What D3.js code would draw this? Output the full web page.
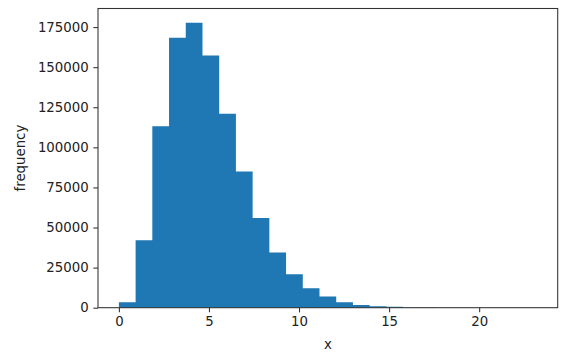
<!DOCTYPE html>
<html>
<head>
<meta charset="utf-8">
<script src="https://cdn.jsdelivr.net/npm/d3@7"></script>
<style>
  body { margin: 0; background: #fff; }
  text { font-family: "DejaVu Sans", sans-serif; }
</style>
</head>
<body>
<div id="chart"></div>
<script>
// histogram data
const binEdges = [0, 0.928, 1.856, 2.784, 3.712, 4.64, 5.568, 6.496, 7.424, 8.352, 9.28,
    10.208, 11.136, 12.064, 12.992, 13.92, 14.848, 15.776, 16.704, 17.632, 18.56,
    19.488, 20.416, 21.344, 22.272, 23.2];
const counts = [3400, 42100, 113100, 168400, 177700, 157300, 121000, 85000, 55900, 34400,
    20900, 12100, 7000, 3400, 1700, 900, 600, 150, 60, 25, 10, 4, 2, 1, 1];
const xTicks = [0, 5, 10, 15, 20];
const yTicks = [0, 25000, 50000, 75000, 100000, 125000, 150000, 175000];

const BAR_COLOR = "#1f77b4";
const W = 565, H = 356;
const M_LEFT = 98, M_RIGHT = 557.7, M_TOP = 8.5, M_BOTTOM = 307.7;
const FONT = 13.3, TICK = 4.67;

var bins = counts.map((c, i) => ({ x0: binEdges[i], x1: binEdges[i + 1], count: c }));

// matplotlib style 5% margins
var xmin = binEdges[0], xmax = binEdges[binEdges.length - 1];
var pad = (xmax - xmin) * 0.05;
var x = d3.scaleLinear().domain([xmin - pad, xmax + pad]).range([M_LEFT, M_RIGHT]);
var y = d3.scaleLinear().domain([0, d3.max(counts) * 1.05]).range([M_BOTTOM, M_TOP]);

var svg = d3.select("#chart").append("svg")
    .attr("width", W)
    .attr("height", H);

// bars drawn as one stepped area so no seams show between neighbours
var steps = bins.concat([{ x0: xmax, count: 0 }]);
var area = d3.area()
    .x(d => x(d.x0))
    .y0(y(0))
    .y1(d => y(d.count))
    .curve(d3.curveStepAfter);

svg.append("path")
    .datum(steps)
    .attr("d", area)
    .attr("fill", BAR_COLOR);

// axes
var xAxis = svg.append("g")
    .attr("transform", `translate(0,${M_BOTTOM})`)
    .call(d3.axisBottom(x).tickValues(xTicks).tickFormat(d3.format("d"))
        .tickSize(TICK).tickPadding(TICK));

var yAxis = svg.append("g")
    .attr("transform", `translate(${M_LEFT},0)`)
    .call(d3.axisLeft(y).tickValues(yTicks).tickFormat(d3.format("d"))
        .tickSize(TICK).tickPadding(TICK));

[xAxis, yAxis].forEach(ax => {
    ax.select(".domain").remove();
    ax.selectAll("line").attr("stroke", "#333").attr("stroke-width", 1.07);
    ax.selectAll("text")
        .attr("fill", "#222")
        .style("font-family", "'DejaVu Sans', sans-serif")
        .style("font-size", FONT + "px");
});

// frame
svg.append("rect")
    .attr("x", M_LEFT)
    .attr("y", M_TOP)
    .attr("width", M_RIGHT - M_LEFT)
    .attr("height", M_BOTTOM - M_TOP)
    .attr("fill", "none")
    .attr("stroke", "#333")
    .attr("stroke-width", 1.07);

// labels
svg.append("text")
    .attr("x", (M_LEFT + M_RIGHT) / 2)
    .attr("y", 349)
    .attr("text-anchor", "middle")
    .attr("fill", "#222")
    .style("font-size", FONT + "px")
    .text("x");

svg.append("text")
    .attr("transform", `translate(25,${(M_TOP + M_BOTTOM) / 2}) rotate(-90)`)
    .attr("text-anchor", "middle")
    .attr("fill", "#222")
    .style("font-size", FONT + "px")
    .text("frequency");
</script>
</body>
</html>
